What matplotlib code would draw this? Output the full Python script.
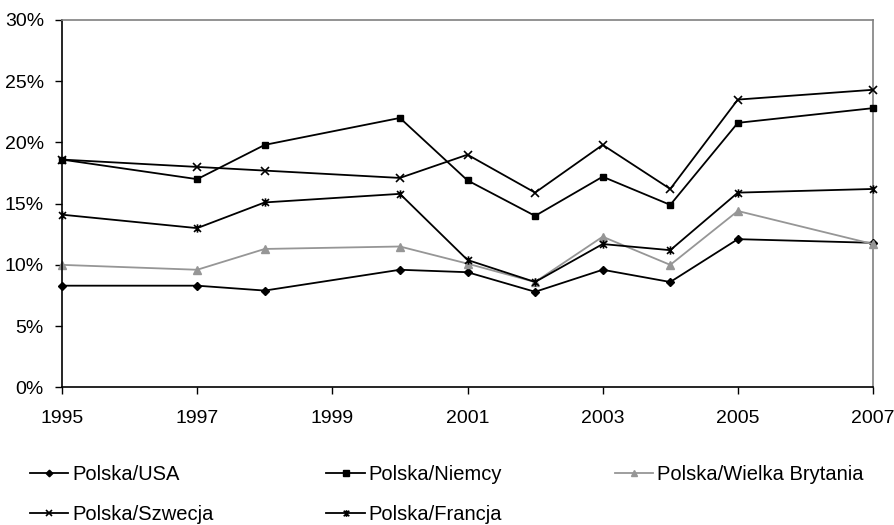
import matplotlib
matplotlib.use("Agg")
import matplotlib.pyplot as plt
from matplotlib.path import Path
from matplotlib.ticker import FuncFormatter

plt.rcParams['font.family'] = ['Liberation Sans', 'DejaVu Sans']

years = [1995, 1997, 1998, 2000, 2001, 2002, 2003, 2004, 2005, 2007]
usa = [8.3, 8.3, 7.9, 9.6, 9.4, 7.8, 9.6, 8.6, 12.1, 11.8]
niemcy = [18.6, 17.0, 19.8, 22.0, 16.9, 14.0, 17.2, 14.9, 21.6, 22.8]
wb = [10.0, 9.6, 11.3, 11.5, 10.1, 8.6, 12.3, 10.0, 14.4, 11.7]
szwecja = [18.6, 18.0, 17.7, 17.1, 19.0, 15.9, 19.8, 16.2, 23.5, 24.3]
francja = [14.1, 13.0, 15.1, 15.8, 10.4, 8.6, 11.7, 11.2, 15.9, 16.2]
labels = ['Polska/USA', 'Polska/Niemcy', 'Polska/Wielka Brytania',
          'Polska/Szwecja', 'Polska/Francja']

star = Path([(-1, -1), (1, 1), (-1, 1), (1, -1), (0, -1.2), (0, 1.2)],
            [Path.MOVETO, Path.LINETO, Path.MOVETO, Path.LINETO, Path.MOVETO, Path.LINETO])

fig = plt.figure(figsize=(8.94, 5.25), dpi=100)
ax = fig.add_axes([62/894, 1-387.3/525, (873-62)/894, (387.3-20)/525])

lw = 1.3
h_usa, = ax.plot(years, usa, color='black', lw=lw, marker='D', ms=4.2)
h_nie, = ax.plot(years, niemcy, color='black', lw=lw, marker='s', ms=5)
h_wb, = ax.plot(years, wb, color='#969696', lw=lw, marker='^', ms=6)
h_sz, = ax.plot(years, szwecja, color='black', lw=lw, marker='x', ms=6, mew=1.2)
h_fr, = ax.plot(years, francja, color='black', lw=lw, marker=star, ms=6,
                mfc='none', mew=1.2)

ax.set_xlim(1995, 2007)
ax.set_ylim(0, 30)
ax.set_xticks(range(1995, 2008, 2))
ax.set_yticks(range(0, 31, 5))
ax.yaxis.set_major_formatter(FuncFormatter(lambda v, p: f"{int(v)}%"))
ax.tick_params(axis='both', direction='out', length=5, width=1, labelsize=14,
               colors='black')
ax.tick_params(axis='y', pad=8)
ax.tick_params(axis='x', pad=11)
for s in ['top', 'right']:
    ax.spines[s].set_color('#808080')
    ax.spines[s].set_linewidth(1.2)
for s in ['left', 'bottom']:
    ax.spines[s].set_color('black')
    ax.spines[s].set_linewidth(1.2)
ax.spines['right'].set_zorder(0.5)
for l in ax.lines:
    l.set_clip_on(False)

handles = [h_usa, h_sz, h_nie, h_fr, h_wb]
labs = [labels[0], labels[3], labels[1], labels[4], labels[2]]
fig.legend(handles, labs, ncol=3, loc='upper left',
           bbox_to_anchor=(30/894, 1-465/525), frameon=False,
           fontsize=14.5, handlelength=1.9, handletextpad=0.2,
           columnspacing=5.6, labelspacing=1.05, borderpad=0,
           borderaxespad=0, markerscale=0.8)

fig.savefig('out.png', dpi=100)
